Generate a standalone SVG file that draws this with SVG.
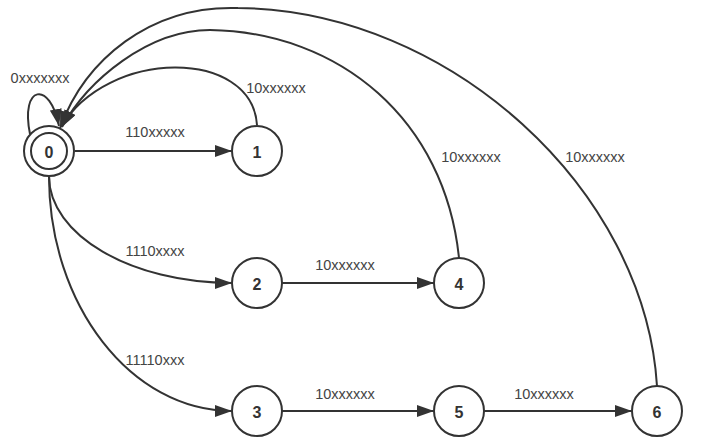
<svg xmlns="http://www.w3.org/2000/svg" width="710" height="445" viewBox="0 0 710 445">
<style>
.node{fill:#fff;stroke:#333;stroke-width:2}
.nl{font-family:"Liberation Sans",Arial,sans-serif;font-size:16px;font-weight:bold;fill:#333;text-anchor:middle;dominant-baseline:central}
.el{font-family:"Liberation Sans",Arial,sans-serif;font-size:14.5px;fill:#444;text-anchor:middle;dominant-baseline:central}
.edge{fill:none;stroke:#333;stroke-width:2;marker-end:url(#arr)}
</style>
<defs>
<marker id="arr" markerUnits="userSpaceOnUse" markerWidth="17" markerHeight="12" refX="17" refY="6" orient="auto">
<path d="M0,0 L17,6 L0,12 z" fill="#333"/>
</marker>
</defs>
<rect width="710" height="445" fill="#fff"/>
<g id="edges">
<path class="edge" d="M75,151 L232,151"/>
<path class="edge" d="M49,176 C49,235 131,283 232,283"/>
<path class="edge" d="M49,176 C49,305 131,411 232,411"/>
<path class="edge" d="M282,283 L434,283"/>
<path class="edge" d="M282,411 L434,411"/>
<path class="edge" d="M484,411 L632,411"/>
<path class="edge" d="M30,134 C20,85 50,80 59,126"/>
<path class="edge" d="M257,125 C252,48 108,48 61,127"/>
<path class="edge" d="M459,258 C445,120 340,32 210,30 C148,30 88,80 62,127"/>
<path class="edge" d="M657,386 C645,190 450,10 238,8 C150,5 85,60 60,128"/>
<text class="el" x="40" y="78">0xxxxxxx</text>
<text class="el" x="276" y="88">10xxxxxx</text>
<text class="el" x="155" y="132">110xxxxx</text>
<text class="el" x="471" y="157">10xxxxxx</text>
<text class="el" x="595" y="157">10xxxxxx</text>
<text class="el" x="155" y="251">1110xxxx</text>
<text class="el" x="345" y="265">10xxxxxx</text>
<text class="el" x="155" y="360">11110xxx</text>
<text class="el" x="345" y="394">10xxxxxx</text>
<text class="el" x="544" y="394">10xxxxxx</text>
</g>
<g id="n0"><circle class="node" cx="49" cy="151" r="25"/><circle class="node" cx="49" cy="151" r="18"/><text class="nl" x="49" y="152">0</text></g>
<g id="n1"><circle class="node" cx="257" cy="151" r="25"/><text class="nl" x="257" y="152">1</text></g>
<g id="n2"><circle class="node" cx="257" cy="283" r="25"/><text class="nl" x="257" y="284">2</text></g>
<g id="n3"><circle class="node" cx="257" cy="411" r="25"/><text class="nl" x="257" y="412">3</text></g>
<g id="n4"><circle class="node" cx="459" cy="283" r="25"/><text class="nl" x="459" y="284">4</text></g>
<g id="n5"><circle class="node" cx="459" cy="411" r="25"/><text class="nl" x="459" y="412">5</text></g>
<g id="n6"><circle class="node" cx="657" cy="411" r="25"/><text class="nl" x="657" y="412">6</text></g>
</svg>
